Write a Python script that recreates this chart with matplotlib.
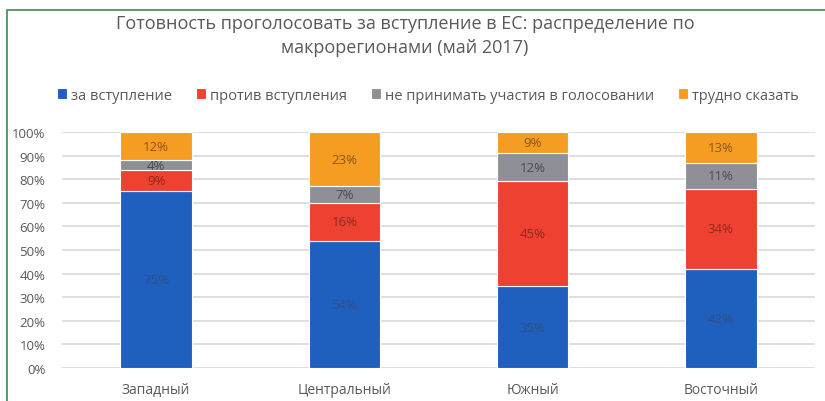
import numpy as np
import matplotlib
matplotlib.use("Agg")
import matplotlib.pyplot as plt
from matplotlib.patches import Rectangle

plt.rcParams['font.family'] = ['Open Sans', 'DejaVu Sans']

# data (May 2017 survey, %)
regions = ['Западный', 'Центральный', 'Южный', 'Восточный']
series = ['за вступление', 'против вступления', 'не принимать участия в голосовании', 'трудно сказать']
za = [75, 54, 35, 42]
protiv = [9, 16, 45, 34]
ne_uchast = [4, 7, 12, 11]
trudno = [12, 23, 9, 13]

colors = ['#1f5fbd', '#ee4131', '#8f9095', '#f59d23']
label_colors = ['#31508a', '#8e2a1f', '#4a4a4f', '#8a5512']

values = np.array([za, protiv, ne_uchast, trudno], dtype=float)
shares = values / values.sum(axis=0) * 100  # 100% stacked, like Excel

fig = plt.figure(figsize=(8.25, 4.02), dpi=100)
ax = fig.add_axes([62 / 825, 1 - 369 / 402, 753 / 825, 236 / 402])

x = np.arange(len(regions))
bottom = np.zeros(len(regions))
for i, name in enumerate(series):
    bars = ax.bar(x, shares[i], 0.38, bottom=bottom, color=colors[i],
                  edgecolor='white', linewidth=0.8, label=name, zorder=2)
    for j, b in enumerate(bars):
        ax.text(x[j], bottom[j] + shares[i][j] / 2, f'{int(values[i][j])}%',
                ha='center', va='center', fontsize=9.5, color=label_colors[i], zorder=3)
    bottom += shares[i]

ax.set_xlim(-0.5, 3.5)
ax.set_ylim(0, 100)
ax.set_yticks(np.arange(0, 101, 10))
ax.set_yticklabels([f'{v}%' for v in range(0, 101, 10)])
ax.set_xticks(x)
ax.set_xticklabels(regions)
ax.yaxis.grid(True, color='#d9d9d9', linewidth=1.2, zorder=0)
ax.set_axisbelow(True)
for s in ax.spines.values():
    s.set_visible(False)
ax.tick_params(length=0, labelsize=9.5, colors='#595959')
ax.tick_params(axis='x', pad=10, labelsize=10)
ax.tick_params(axis='y', pad=12)

fig.text(405 / 825, 1 - 36 / 402,
         'Готовность проголосовать за вступление в ЕС: распределение по\nмакрорегионами (май 2017)',
         ha='center', va='center', fontsize=13, color='#595959', linespacing=1.45)

ax.legend(loc='center', bbox_to_anchor=(428 / 825, 1 - 96 / 402), bbox_transform=fig.transFigure,
          ncol=4, frameon=False, fontsize=10.5, handlelength=0.7, handleheight=0.7,
          handletextpad=0.3, columnspacing=1.6, labelcolor='#595959')

# green frame around the chart, partly cut off in the reference
fig.patches.append(Rectangle((7 / 825, -0.1), 1.2, 1.1 - 11 / 402, transform=fig.transFigure,
                             fill=False, edgecolor='#3d8b4f', linewidth=1.2))

fig.savefig('out.png', dpi=100, facecolor='white')
